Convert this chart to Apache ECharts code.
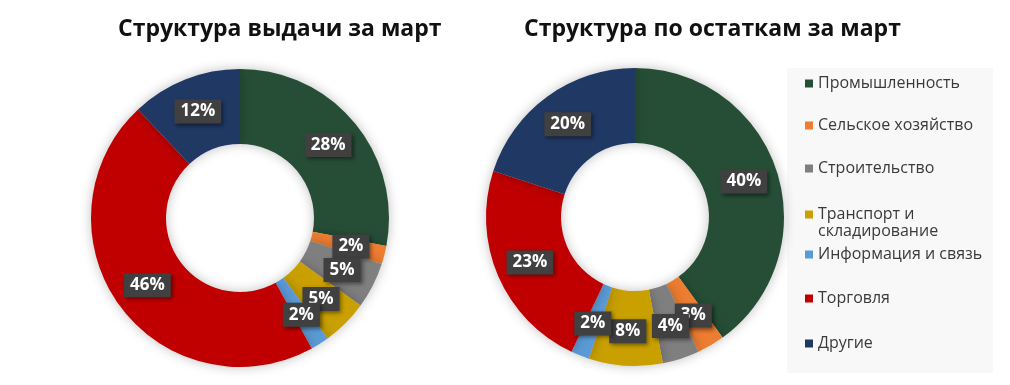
<!DOCTYPE html>
<html><head><meta charset="utf-8">
<script src="https://cdn.jsdelivr.net/npm/echarts@6/dist/echarts.min.js"></script>
<style>html,body{margin:0;padding:0;background:#fff}#c{width:1010px;height:385px}</style>
</head><body><div id="c"></div>
<script>
const categories = ['Промышленность','Сельское хозяйство','Строительство','Транспорт и\nскладирование','Информация и связь','Торговля','Другие'];
const issueValues = [28, 2, 5, 5, 2, 46, 12];
const balanceValues = [40, 3, 4, 8, 2, 23, 20];
const colors = ['#264E36','#ED7D31','#7F7F7F','#C9A000','#5B9BD5','#C00000','#203864'];
const titles = ['Структура выдачи за март','Структура по остаткам за март'];

const FONT = '"Open Sans", "DejaVu Sans", sans-serif';
const chart = echarts.init(document.getElementById('c'));

function pieSeries(values, cx, cy) {
  return {
    type: 'pie',
    center: [cx, cy],
    radius: [74, 149],
    startAngle: 90,
    clockwise: true,
    silent: true,
    animation: false,
    avoidLabelOverlap: false,
    labelLayout: { hideOverlap: false },
    data: categories.map((n, i) => ({ name: n, value: values[i], itemStyle: { color: colors[i] } })),
    itemStyle: { borderWidth: 0, shadowBlur: 12, shadowColor: 'rgba(0,0,0,0.25)' },
    label: {
      show: true, position: 'inside', formatter: '{c}%',
      color: '#fff', fontFamily: FONT, fontWeight: 'bold', fontSize: 17,
      backgroundColor: '#404040', padding: [4, 6, 3, 6],
      shadowBlur: 4, shadowColor: 'rgba(0,0,0,0.45)', shadowOffsetX: 2, shadowOffsetY: 2
    },
    labelLine: { show: false }
  };
}

const legendTops = [70, 112, 155, 184, 241, 285, 330];
const legends = categories.map((n, i) => {
  const multi = n.indexOf('\n') >= 0;
  return {
    data: [n], orient: 'vertical', left: 800, top: legendTops[i],
    itemWidth: 8, itemHeight: 8, icon: 'rect', selectedMode: false,
    formatter: multi ? (name => '{e| }\n' + name) : undefined,
    textStyle: { color: '#3a3a3a', fontFamily: FONT, fontSize: 16, lineHeight: 17,
      rich: { e: { fontSize: 16, lineHeight: 17 } } }
  };
});

chart.setOption({
  animation: false,
  title: [
    { text: titles[0], left: 113, top: 13, textStyle: { fontFamily: FONT, fontWeight: 'bold', fontSize: 23, color: '#111' } },
    { text: titles[1], left: 519, top: 13, textStyle: { fontFamily: FONT, fontWeight: 'bold', fontSize: 23, color: '#111' } }
  ],
  graphic: [{ type: 'rect', z: -10, shape: { x: 787, y: 68, width: 206, height: 305 }, style: { fill: '#f8f8f8' } }],
  legend: legends,
  series: [pieSeries(issueValues, 240, 218), pieSeries(balanceValues, 635, 217)]
});
</script></body></html>
